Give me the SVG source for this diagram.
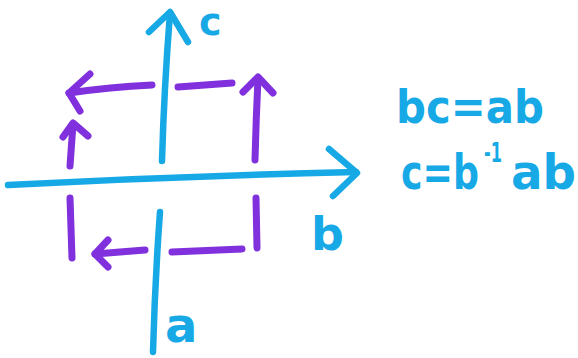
<svg xmlns="http://www.w3.org/2000/svg" width="578" height="358" viewBox="0 0 578 358">
<style>
.cy{fill:none;stroke:#16a9e6;stroke-width:6.5;stroke-linecap:round;stroke-linejoin:round}
.pu{fill:none;stroke:#8030dc;stroke-width:7;stroke-linecap:round;stroke-linejoin:round}
.t{font-family:"DejaVu Sans","Open Sans",sans-serif;font-weight:bold;fill:#16a9e6}
</style>
<rect width="578" height="358" fill="#fff"/>
<g id="axes">
<g id="axis-c"><path class="cy" d="M162 161 Q164 90 170 13"/><path class="cy" d="M149 32 L170 12 L188 42"/></g>
<g id="axis-b"><path class="cy" d="M8 185 Q180 176 356 172"/><path class="cy" d="M329 149 L357 173 L333 196"/></g>
<g id="axis-a"><path class="cy" d="M160 212 Q155 280 153 352"/></g>
</g>
<g id="connectors">
<path class="pu" d="M152 85 Q110 87 69 93"/><path class="pu" d="M90 74 L69 93 L80 111"/>
<path class="pu" d="M178 87 L232 83"/>
<path class="pu" d="M255 160 Q256 120 258 78"/><path class="pu" d="M243 92 L258 77 L273 93"/>
<path class="pu" d="M70 166 L73 124"/><path class="pu" d="M63 137 L73 123 L88 136"/>
<path class="pu" d="M70 198 L72 258"/>
<path class="pu" d="M256 198 L257 248"/>
<path class="pu" d="M145 250 L95 254"/><path class="pu" d="M108 240 L95 254 L108 267"/>
<path class="pu" d="M172 252 L242 249"/>
</g>
<g id="labels">
<text class="t" x="199" y="35" font-size="38">c</text>
<text class="t" x="311" y="250" font-size="46">b</text>
<text class="t" x="165" y="342" font-size="48">a</text>
<text class="t" x="396" y="123" font-size="46" textLength="148" lengthAdjust="spacingAndGlyphs">bc=ab</text>
<text class="t" font-size="48"><tspan x="401" y="189" textLength="78" lengthAdjust="spacingAndGlyphs">c=b</tspan><tspan x="484" y="162" font-size="26" textLength="18" lengthAdjust="spacingAndGlyphs">-1</tspan><tspan x="511" y="189" textLength="65" lengthAdjust="spacingAndGlyphs">ab</tspan></text>
</g>
</svg>
